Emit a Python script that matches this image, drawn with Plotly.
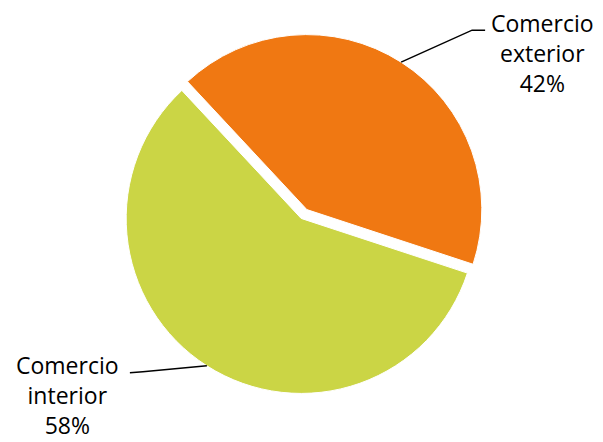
import math
import plotly.graph_objects as go

labels = ["Comercio exterior", "Comercio interior"]
label_text = ["Comercio<br>exterior<br>42%", "Comercio<br>interior<br>58%"]
values = [42, 58]
colors = ["#F07812", "#CBD545"]

W, H = 603, 442
PAGE_OFFSET = 8  # default body margin of the html page
rotation = -43
pull = 0.03
# pie placement (pixels, in window coordinates)
cx_px, cy_px, R = 304 - PAGE_OFFSET, 214 - PAGE_OFFSET, 175
dom_half = R * (1 + pull)

fig = go.Figure(go.Pie(
    labels=labels, values=values, sort=False, direction="clockwise",
    rotation=rotation, pull=[pull, pull],
    marker=dict(colors=colors, line=dict(color="white", width=1)),
    textinfo="none", hoverinfo="label+percent", showlegend=False,
    domain=dict(x=[(cx_px - dom_half) / W, (cx_px + dom_half) / W],
                y=[(H - cy_px - dom_half) / H, (H - cy_px + dom_half) / H]),
))

total = sum(values)
start = rotation
# leader line offsets (pixels) from slice edge: elbow, end ; text position offsets
leader = [dict(elbow=(71, -32), end=(84, -32), text=(141, -9)),
          dict(elbow=(-64, 6), end=(-77, 7), text=(-139, 29))]
shapes, annotations = [], []
for i, v in enumerate(values):
    span = v / total * 360
    mid = math.radians(start + span / 2)
    start += span
    sx, sy = math.sin(mid), -math.cos(mid)
    ex = cx_px + (1 + pull) * R * sx
    ey = cy_px + (1 + pull) * R * sy
    L = leader[i]
    pts = [(ex, ey), (ex + L["elbow"][0], ey + L["elbow"][1]), (ex + L["end"][0], ey + L["end"][1])]
    path = "M " + " L ".join(f"{x / W},{1 - y / H}" for x, y in pts)
    shapes.append(dict(type="path", path=path, xref="paper", yref="paper",
                       line=dict(color="black", width=1.5)))
    annotations.append(dict(x=(ex + L["text"][0]) / W, y=1 - (ey + L["text"][1]) / H,
                            xref="paper", yref="paper", text=label_text[i], showarrow=False,
                            xanchor="center", yanchor="middle", align="center",
                            font=dict(family="Open Sans", size=23, color="black")))

fig.update_layout(width=W, height=H, margin=dict(l=0, r=0, t=0, b=0),
                  paper_bgcolor="white", plot_bgcolor="white",
                  shapes=shapes, annotations=annotations)
fig.write_html("out.html")
